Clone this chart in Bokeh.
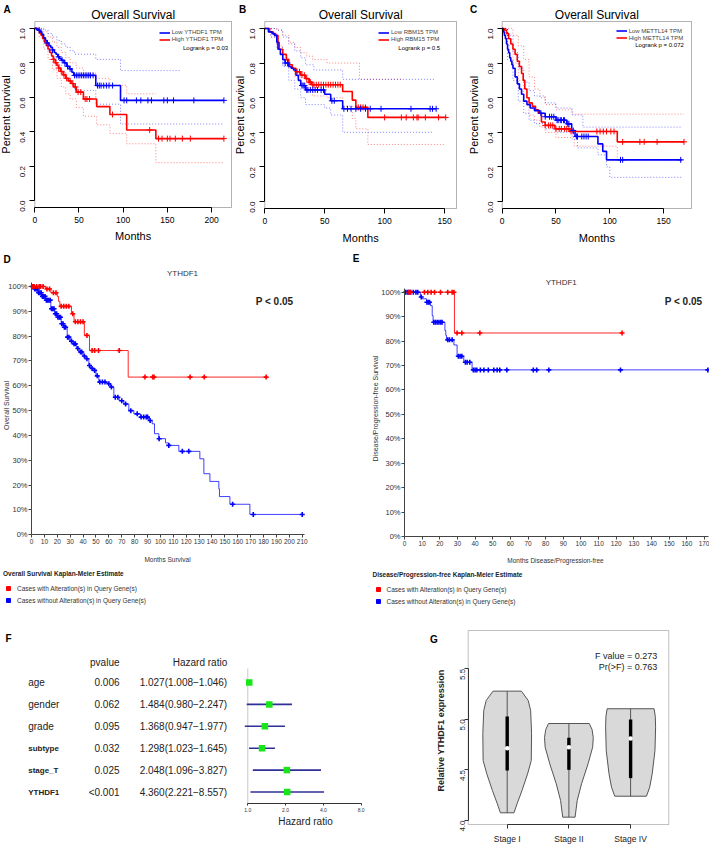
import math
import numpy as np
from bokeh.plotting import figure
from bokeh.models import (Range1d, FixedTicker, Label, Legend, LegendItem,
                          PrintfTickFormatter, BoxAnnotation, ColumnDataSource)
from bokeh.layouts import row, column
from bokeh.embed import file_html
from bokeh.resources import INLINE
from bokeh.core.properties import value

FONT = "Liberation Sans"
BLUE = "#0000ff"
RED = "#ff0000"

# ---------------- DATA ----------------
# Panel A  (YTHDF1, overall survival)
A_low_t = [0, 2, 4, 6, 8, 10, 12, 14, 16, 18, 20, 22, 24, 26, 28, 30, 33, 36, 39, 42, 44, 69, 97, 214]
A_low_s = [1.0, 0.995, 0.99, 0.98, 0.965, 0.945, 0.93, 0.915, 0.9, 0.89, 0.875, 0.86, 0.85, 0.835, 0.825,
           0.815, 0.8, 0.78, 0.765, 0.745, 0.727, 0.668, 0.582, 0.582]
A_high_t = [0, 3, 5, 7, 9, 11, 13, 15, 17, 19, 21, 23, 25, 27, 29, 32, 35, 38, 41, 44, 47, 55, 70, 85, 104, 137, 214]
A_high_s = [1.0, 0.99, 0.975, 0.96, 0.94, 0.92, 0.9, 0.88, 0.86, 0.84, 0.82, 0.8, 0.785, 0.77, 0.75, 0.73,
            0.71, 0.695, 0.68, 0.66, 0.63, 0.59, 0.546, 0.5, 0.41, 0.36, 0.36]
A_low_cens = [5, 14, 20, 27, 31, 34, 37, 40, 45, 47, 49, 51, 53, 55, 57, 59, 61, 63, 66, 71, 73, 75, 78, 81,
              84, 88, 101, 104, 115, 120, 128, 132, 146, 150, 157, 180, 214]
A_high_cens = [21, 24, 27, 30, 33, 36, 40, 43, 46, 49, 52, 57, 59, 62, 88, 130, 140, 144, 150, 153, 159, 167, 176, 214]
A_low_up_t = [0, 5, 10, 15, 20, 25, 30, 35, 40, 45, 69, 97, 166]
A_low_up_s = [1.0, 1.0, 0.99, 0.97, 0.95, 0.93, 0.91, 0.89, 0.87, 0.85, 0.82, 0.755, 0.755]
A_low_lo_t = [0, 5, 10, 15, 20, 25, 30, 35, 40, 45, 69, 97, 214]
A_low_lo_s = [1.0, 0.97, 0.92, 0.87, 0.83, 0.79, 0.75, 0.71, 0.68, 0.64, 0.56, 0.445, 0.445]
A_high_up_t = [0, 5, 10, 15, 20, 25, 30, 35, 40, 47, 55, 70, 85, 104, 137]
A_high_up_s = [1.0, 1.0, 0.98, 0.95, 0.92, 0.89, 0.86, 0.83, 0.8, 0.77, 0.74, 0.71, 0.67, 0.62, 0.62]
A_high_lo_t = [0, 5, 10, 15, 20, 25, 30, 35, 40, 47, 55, 70, 85, 104, 137, 214]
A_high_lo_s = [1.0, 0.95, 0.88, 0.82, 0.76, 0.71, 0.66, 0.62, 0.59, 0.54, 0.49, 0.44, 0.39, 0.33, 0.22, 0.22]

# Panel B  (RBM15)
B_low_t = [0, 3, 6, 8, 10, 11, 13, 15, 17, 20, 22, 24, 26, 28, 30, 34, 50, 55, 65, 143]
B_low_s = [1.0, 0.98, 0.97, 0.96, 0.92, 0.88, 0.85, 0.82, 0.8, 0.78, 0.77, 0.76, 0.73, 0.7, 0.67, 0.645,
           0.62, 0.582, 0.536, 0.536]
B_high_t = [0, 4, 7, 9, 11, 12, 15, 18, 20, 23, 26, 30, 34, 37, 39, 65, 73, 76, 86, 151]
B_high_s = [1.0, 0.98, 0.97, 0.96, 0.92, 0.88, 0.85, 0.82, 0.79, 0.77, 0.75, 0.73, 0.71, 0.69, 0.675,
            0.636, 0.586, 0.544, 0.486, 0.486]
B_low_cens = [17, 19, 31, 32, 33, 35, 36, 38, 40, 42, 44, 47, 49, 56, 58, 66, 69, 72, 76, 80, 84, 88, 97,
              122, 138, 140, 143]
B_high_cens = [27, 29, 31, 33, 35, 37, 38, 40, 41, 43, 45, 47, 49, 51, 53, 55, 57, 59, 61, 63, 78, 80, 82,
               84, 100, 114, 118, 124, 127, 128, 134, 145, 151]
B_low_up_t = [0, 5, 10, 15, 20, 25, 30, 34, 41, 65, 142]
B_low_up_s = [1.0, 1.0, 0.99, 0.95, 0.91, 0.87, 0.83, 0.79, 0.76, 0.706, 0.706]
B_low_lo_t = [0, 5, 10, 15, 20, 25, 30, 34, 50, 55, 65, 141]
B_low_lo_s = [1.0, 0.95, 0.89, 0.78, 0.7, 0.65, 0.6, 0.56, 0.54, 0.5, 0.4, 0.4]
B_high_up_t = [0, 5, 10, 15, 20, 25, 30, 35, 40, 52, 79, 115]
B_high_up_s = [1.0, 1.0, 0.99, 0.96, 0.92, 0.89, 0.86, 0.84, 0.82, 0.8, 0.706, 0.706]
B_high_lo_t = [0, 5, 10, 15, 20, 25, 30, 35, 40, 52, 65, 73, 76, 86, 150]
B_high_lo_s = [1.0, 0.95, 0.9, 0.83, 0.77, 0.72, 0.68, 0.64, 0.61, 0.6, 0.55, 0.48, 0.42, 0.33, 0.33]

# Panel C  (METTL14)
C_low_t = [0, 1, 2, 3, 4, 5, 6, 7, 8, 9, 10, 12, 14, 16, 18, 20, 23, 26, 30, 35, 40, 50, 60, 64.6, 67.7,
           89, 93.5, 97, 167]
C_low_s = [1.0, 0.98, 0.96, 0.94, 0.91, 0.88, 0.86, 0.83, 0.81, 0.79, 0.77, 0.72, 0.68, 0.65, 0.62, 0.58,
           0.56, 0.54, 0.525, 0.51, 0.49, 0.47, 0.449, 0.41, 0.376, 0.333, 0.29, 0.241, 0.241]
C_high_t = [0, 2, 4, 6, 8, 10, 12, 14, 16, 18, 19.5, 21, 23, 25, 28, 31, 33.5, 36.5, 40, 49, 63, 107, 169]
C_high_s = [1.0, 0.99, 0.97, 0.94, 0.91, 0.88, 0.85, 0.81, 0.78, 0.74, 0.7, 0.65, 0.6, 0.57, 0.55, 0.53,
            0.51, 0.46, 0.44, 0.42, 0.405, 0.345, 0.345]
C_low_cens = [36, 40, 44, 46, 48, 51, 52, 54, 55, 57, 58, 61, 62, 66, 69, 70, 74, 76, 78, 80, 110, 112, 166]
C_high_cens = [40, 43, 45, 47, 50, 53, 55, 58, 60, 62, 64, 66, 88, 91, 94, 97, 101, 104, 112, 128, 132, 144, 169]
C_low_up_t = [0, 5, 10, 15, 20, 25, 30, 40, 50, 65, 75, 167]
C_low_up_s = [1.0, 0.96, 0.86, 0.77, 0.69, 0.64, 0.61, 0.57, 0.54, 0.5, 0.43, 0.43]
C_low_lo_t = [0, 5, 10, 15, 20, 25, 30, 40, 50, 65, 70, 89, 97, 100, 167]
C_low_lo_s = [1.0, 0.82, 0.7, 0.58, 0.51, 0.47, 0.45, 0.42, 0.4, 0.36, 0.31, 0.27, 0.2, 0.14, 0.14]
C_high_up_t = [0, 5, 10, 15, 20, 25, 30, 35, 40, 50, 65, 169]
C_high_up_s = [1.0, 1.0, 0.96, 0.9, 0.82, 0.72, 0.65, 0.6, 0.56, 0.53, 0.505, 0.505]
C_high_lo_t = [0, 5, 10, 15, 20, 25, 30, 35, 40, 50, 67, 107, 169]
C_high_lo_s = [1.0, 0.9, 0.8, 0.7, 0.6, 0.5, 0.47, 0.43, 0.4, 0.37, 0.32, 0.24, 0.24]

# Panel D  (overall survival, % ; months)
D_alt_t = [0, 11, 15, 20, 21, 22, 31, 33, 41, 45, 75, 182]
D_alt_s = [100, 99, 97.5, 96, 94, 92, 89, 85.8, 80.3, 74.2, 63.5, 63.5]
D_alt_cens = [1, 2, 4, 6, 7, 9, 12, 14, 17, 19, 23, 25, 27, 29, 32, 34, 36, 38, 40, 43, 47, 49, 52, 68, 88,
              94, 95, 123, 134, 182]
D_unalt_t = [0, 2, 5, 8, 11, 15, 18, 20, 23, 25, 27.7, 30, 32, 35, 37, 40, 42, 44.5, 46, 48.4, 50, 52.2,
             58.7, 61.3, 63.9, 68, 71.6, 75.5, 79.4, 84.6, 91, 93.6, 95.4, 98.8, 104, 106.5, 114.3, 130.6,
             133.7, 138.4, 145.3, 145.8, 153.9, 169.4, 210]
D_unalt_s = [100, 99, 97.5, 96, 94.5, 91, 89, 87.6, 85, 83.6, 79.6, 78, 76.9, 75, 73.6, 72, 70.9, 68.2, 67,
             66.2, 64, 61.5, 60.8, 59.5, 55.4, 54, 52.7, 50, 48.7, 47.4, 46, 44.7, 40.7, 38.7, 37, 36, 33.6,
             30.6, 24.6, 21.5, 18.5, 15.4, 12.3, 8.2, 8.2]
D_unalt_cens = [0.5, 1.5, 2.5, 3.5, 4.5, 5.5, 6.5, 7.5, 8.5, 9.5, 10.5, 11.5, 12.5, 13.5, 14.5, 15.5, 16.5,
                17.5, 18.5, 19.5, 20.5, 21.5, 22.5, 23.5, 24.5, 25.5, 26.5, 28, 29, 31, 33, 34, 36, 38, 39,
                41, 43, 45, 47, 49, 51, 53, 55, 57, 60, 62, 65, 67, 70, 73, 77, 82, 85, 87, 89, 90, 92, 99,
                106.5, 117, 122, 156, 172, 210]

# Panel E  (disease/progression-free, % ; months)
E_alt_t = [0, 28.3, 123.3]
E_alt_s = [100, 83.3, 83.3]
E_alt_cens = [2.5, 3.4, 11.3, 13.2, 15.1, 17, 20.4, 24.5, 27, 28, 29.8, 32.5, 42.7, 123.3]
E_unalt_t = [0, 9, 10, 12.5, 14.7, 15.7, 16.2, 22.9, 23.4, 23.8, 28, 29.8, 33.6, 38.3, 172]
E_unalt_s = [100, 98, 97.3, 95.9, 94.5, 90.4, 87.7, 84.3, 82.3, 80.5, 78.4, 73.8, 71.3, 68.2, 68.2]
E_unalt_cens = [0.5, 1.5, 2.5, 3.5, 5, 6.5, 7.5, 9.5, 12.7, 13.5, 14.2, 16.6, 17.5, 18.5, 19.5, 20.5, 21.3,
                24.5, 25.5, 27, 30.5, 31.5, 32.5, 34.5, 35.5, 37, 39, 40, 41, 43, 45, 47.5, 50.6, 52.5, 54,
                58, 73, 74.9, 81.8, 122.4, 171.9]

# Panel F  (multivariate Cox)
F_vars = ["age", "gender", "grade", "subtype", "stage_T", "YTHDF1"]
F_pvalues = ["0.006", "0.062", "0.095", "0.032", "0.025", "<0.001"]
F_hr_text = ["1.027(1.008\u22121.046)", "1.484(0.980\u22122.247)", "1.368(0.947\u22121.977)",
             "1.298(1.023\u22121.645)", "2.048(1.096\u22123.827)", "4.360(2.221\u22128.557)"]
F_hr_plot = [1.027, 1.484, 1.368, 1.298, 2.048, 2.06]
F_lo_plot = [1.008, 0.980, 0.947, 1.023, 1.096, 1.05]
F_hi_plot = [1.046, 2.247, 1.977, 1.645, 3.827, 4.05]
F_ticks = [1, 2, 4, 8]
F_null = 1

# Panel G  (violin by stage)
G_stages = ["Stage I", "Stage II", "Stage IV"]
G1_y = [4.076, 4.165, 4.297, 4.46, 4.593, 4.858, 5.088, 5.187, 5.279]
G1_w = [0.11, 0.16, 0.24, 0.33, 0.39, 0.395, 0.38, 0.34, 0.23]
G2_y = [4.033, 4.198, 4.363, 4.56, 4.725, 4.82, 4.90, 4.959]
G2_w = [0.10, 0.135, 0.205, 0.31, 0.385, 0.395, 0.375, 0.33]
G4_y = [4.24, 4.33, 4.462, 4.692, 4.923, 5.03, 5.105]
G4_w = [0.257, 0.31, 0.35, 0.395, 0.405, 0.40, 0.38]
G_q1 = [4.495, 4.501, 4.419]
G_q3 = [5.029, 4.818, 4.999]
G_med = [4.715, 4.725, 4.811]


# ---------------- HELPERS ----------------
def step_at(t, s, x):
    t = np.asarray(t, dtype=float)
    s = np.asarray(s, dtype=float)
    idx = np.searchsorted(t, np.asarray(x, dtype=float), side="right") - 1
    return s[np.clip(idx, 0, len(s) - 1)]


class Panel:
    """A borderless figure: its whole area is data space; the plot region ('frame')
    is given in page pixels together with its data range."""

    def __init__(self, box, frame, xr, yr, x_log=False, **kw):
        self.x0, self.x1, self.y0, self.y1 = box
        self.fx0, self.fx1, self.fy0, self.fy1 = frame
        self.xr, self.yr, self.x_log = xr, yr, x_log
        full_x = (self.dx(self.x0), self.dx(self.x1))
        full_y = (self.dy(self.y1), self.dy(self.y0))
        self.p = figure(width=self.x1 - self.x0, height=self.y1 - self.y0,
                        x_range=Range1d(*full_x), y_range=Range1d(*full_y),
                        x_axis_type="log" if x_log else "linear",
                        min_border=0, min_border_left=0, min_border_right=0,
                        min_border_top=0, min_border_bottom=0,
                        output_backend="svg", toolbar_location=None, tools="",
                        background_fill_color="white", border_fill_color="white", **kw)
        self.p.xgrid.visible = False
        self.p.ygrid.visible = False
        self.p.outline_line_color = None

    def dx(self, px):
        f = (px - self.fx0) / (self.fx1 - self.fx0)
        a, b = self.xr
        if self.x_log:
            return 10 ** (math.log10(a) + f * (math.log10(b) - math.log10(a)))
        return a + f * (b - a)

    def dy(self, py):
        f = (self.fy1 - py) / (self.fy1 - self.fy0)
        a, b = self.yr
        return a + f * (b - a)

    def text(self, px, py, txt, size, bold=False, align="center", angle=0.0, color="black"):
        self.p.add_layout(Label(x=self.dx(px), y=self.dy(py), text=txt, text_font=FONT,
                                text_font_size=f"{size}px",
                                text_font_style="bold" if bold else "normal",
                                text_align=align, text_baseline="middle", angle=angle,
                                text_color=color))

    def box(self, color="black"):
        self.p.add_layout(BoxAnnotation(left=self.xr[0], right=self.xr[1], bottom=self.yr[0],
                                        top=self.yr[1], fill_color=None, fill_alpha=0,
                                        line_color=color, line_width=1))


def style_axis(ax, size, tick_out=4, standoff=3, color="black", label_color="black"):
    ax.major_label_text_font = FONT
    ax.major_label_text_font_size = f"{size}px"
    ax.major_label_text_color = label_color
    ax.major_tick_in = 0
    ax.major_tick_out = tick_out
    ax.minor_tick_line_color = None
    ax.major_label_standoff = standoff
    ax.axis_line_color = color
    ax.major_tick_line_color = color


def r_panel(P, low, high, low_up, low_lo, high_up, high_lo, low_c, high_c, xticks, labels, logrank,
            leg_left, leg_top, logrank_xy, xlab_y, ylab_x, ytick_standoff, letter, letter_x):
    p = P.p
    P.box()
    for (t, s), col in [(high_up, RED), (high_lo, RED), (low_up, BLUE), (low_lo, BLUE)]:
        p.step(t, s, mode="after", line_color=col, line_alpha=0.5, line_width=1, line_dash="1 2")
    rh = p.step(high[0], high[1], mode="after", line_color=RED, line_width=1.6)
    rl = p.step(low[0], low[1], mode="after", line_color=BLUE, line_width=1.6)
    p.scatter(high_c, step_at(high[0], high[1], high_c), marker="cross", size=6, line_color=RED, line_width=1)
    p.scatter(low_c, step_at(low[0], low[1], low_c), marker="cross", size=6, line_color=BLUE, line_width=1)
    xa, ya = p.xaxis[0], p.yaxis[0]
    xa.fixed_location = P.yr[0]
    ya.fixed_location = P.xr[0]
    xa.bounds = (xticks[0], xticks[-1])
    ya.bounds = (0, 1)
    xa.ticker = FixedTicker(ticks=xticks)
    ya.ticker = FixedTicker(ticks=[0, 0.2, 0.4, 0.6, 0.8, 1.0])
    ya.formatter = PrintfTickFormatter(format="%.1f")
    ya.major_label_orientation = math.pi / 2
    style_axis(xa, 8.5, tick_out=5, standoff=4)
    style_axis(ya, 8, tick_out=5, standoff=ytick_standoff)
    leg = Legend(items=[LegendItem(label=labels[0], renderers=[rl]),
                        LegendItem(label=labels[1], renderers=[rh])],
                 location=(leg_left - P.x0, P.y1 - (leg_top + 14)),
                 label_text_font=FONT, label_text_font_size="6px", label_height=7,
                 glyph_height=7, glyph_width=11, label_standoff=2, spacing=0, padding=0,
                 margin=0, border_line_color=None, background_fill_alpha=0)
    p.add_layout(leg)
    cx = (P.fx0 + P.fx1) / 2
    cy = (P.fy0 + P.fy1) / 2
    P.text(cx, 14.5, "Overall Survival", 12)
    P.text(cx, xlab_y, "Months", 11)
    P.text(ylab_x, cy, "Percent survival", 11, angle=math.pi / 2)
    P.text(logrank_xy[0], logrank_xy[1], logrank, 6, align="right")
    P.text(letter_x, 9, letter, 10, bold=True)


def cbio_panel(P, alt, unalt, alt_c, unalt_c, xticks, xbound, ylab, ylab_xy, xlab, xlab_xy, title_xy,
               p_xy, leg_title, leg_left, leg_bottom, letter, letter_xy):
    p = P.p
    p.step(unalt[0], unalt[1], mode="after", line_color=BLUE, line_width=1, line_alpha=0.75)
    p.step(alt[0], alt[1], mode="after", line_color=RED, line_width=1, line_alpha=0.85)
    p.scatter(unalt_c, step_at(unalt[0], unalt[1], unalt_c), marker="cross", size=5, line_color=BLUE,
              line_width=1.6)
    p.scatter(alt_c, step_at(alt[0], alt[1], alt_c), marker="cross", size=5, line_color=RED, line_width=1.6)
    xa, ya = p.xaxis[0], p.yaxis[0]
    xa.fixed_location = 0
    ya.fixed_location = 0
    xa.bounds = (0, xbound)
    ya.bounds = (0, P.yr[1] - 0.5)
    xa.ticker = FixedTicker(ticks=xticks)
    ya.ticker = FixedTicker(ticks=list(range(0, 101, 10)))
    ya.formatter = PrintfTickFormatter(format="%d%%")
    style_axis(xa, 6.5, tick_out=3, standoff=1, color="#444444", label_color="#333333")
    style_axis(ya, 7.5, tick_out=3, standoff=1, color="#444444", label_color="#333333")
    nan = [float("nan")]
    dr = p.scatter(x=nan, y=nan, marker="square", fill_color=RED, line_color=RED)
    db = p.scatter(x=nan, y=nan, marker="square", fill_color=BLUE, line_color=BLUE)
    leg = Legend(items=[LegendItem(label="Cases with Alteration(s) in Query Gene(s)", renderers=[dr]),
                        LegendItem(label="Cases without Alteration(s) in Query Gene(s)", renderers=[db])],
                 title=leg_title, location=(leg_left - P.x0, P.y1 - leg_bottom),
                 title_text_font=FONT, title_text_font_style="bold", title_text_font_size="6.5px",
                 title_text_color="#222222",
                 title_standoff=5, label_text_font=FONT, label_text_font_size="6.5px",
                 label_text_color="#333333", label_height=12, glyph_height=10, glyph_width=10,
                 label_standoff=4, spacing=0, padding=0, margin=0, border_line_color=None,
                 background_fill_alpha=0)
    p.add_layout(leg)
    P.text(ylab_xy[0], ylab_xy[1], ylab, 7, angle=math.pi / 2, color="#333333")
    P.text(xlab_xy[0], xlab_xy[1], xlab, 6.5, color="#333333")
    P.text(title_xy[0], title_xy[1], "YTHDF1", 8, color="#333333")
    P.text(p_xy[0], p_xy[1], "P < 0.05", 10, bold=True, color="#222222")
    P.text(letter_xy[0], letter_xy[1], letter, 10, bold=True)


# ---------------- ROW 1 : A, B, C ----------------
A = Panel((0, 234, 0, 250), (34.3, 231, 21, 207), (0, 222.6), (-0.04, 1.04))
r_panel(A, (A_low_t, A_low_s), (A_high_t, A_high_s), (A_low_up_t, A_low_up_s), (A_low_lo_t, A_low_lo_s),
        (A_high_up_t, A_high_up_s), (A_high_lo_t, A_high_lo_s), A_low_cens, A_high_cens,
        [0, 50, 100, 150, 200], ["Low YTHDF1 TPM", "High YTHDF1 TPM"], "Logrank p = 0.03",
        158.7, 28.8, (227.7, 47), 235, 5, 7, "A", 6.5)

B = Panel((234, 466, 0, 250), (264.3, 456, 21, 208), (0, 160), (-0.04, 1.04))
r_panel(B, (B_low_t, B_low_s), (B_high_t, B_high_s), (B_low_up_t, B_low_up_s), (B_low_lo_t, B_low_lo_s),
        (B_high_up_t, B_high_up_s), (B_high_lo_t, B_high_lo_s), B_low_cens, B_high_cens,
        [0, 50, 100, 150], ["Low RBM15 TPM", "High RBM15 TPM"], "Logrank p = 0.5",
        378, 28.5, (439.7, 47), 237, 239.5, 7, "B", 242)

C = Panel((466, 709, 0, 250), (501.7, 691, 21, 208), (0, 176), (-0.04, 1.04))
r_panel(C, (C_low_t, C_low_s), (C_high_t, C_high_s), (C_low_up_t, C_low_up_s), (C_low_lo_t, C_low_lo_s),
        (C_high_up_t, C_high_up_s), (C_high_lo_t, C_high_lo_s), C_low_cens, C_high_cens,
        [0, 50, 100, 150], ["Low METTL14 TPM", "High METTL14 TPM"], "Logrank p = 0.072",
        615.7, 27.2, (683.3, 44.3), 237, 473, 7, "C", 473)

# ---------------- ROW 2 : D, E ----------------
D = Panel((0, 350, 250, 612), (31, 305.6, 281, 534.3), (0, 213), (0, 102))
cbio_panel(D, (D_alt_t, D_alt_s), (D_unalt_t, D_unalt_s), D_alt_cens, D_unalt_cens,
           list(range(0, 211, 10)), 211.5, "Overall Survival", (5.8, 405), "Months Survival", (167, 559),
           (182, 273), (274, 301), "Overall Survival Kaplan-Meier Estimate", 3, 606, "D", (6.5, 258.5))

E = Panel((350, 709, 250, 612), (404, 708.4, 286.8, 536), (0, 172.5), (0, 102))
cbio_panel(E, (E_alt_t, E_alt_s), (E_unalt_t, E_unalt_s), E_alt_cens, E_unalt_cens,
           list(range(0, 171, 10)), 172.5, "Disease/Progression-free Survival", (375, 408),
           "Months Disease/Progression-free", (555, 560), (560.7, 281.7), (683, 300.7),
           "Disease/Progression-free Kaplan-Meier Estimate", 372.5, 607, "E", (355.5, 258))

# ---------------- ROW 3 : F (table + forest), G ----------------
rows = list(range(len(F_vars)))
T = Panel((0, 243, 612, 844), (0, 243, 612, 844), (0, 243), (7.397, -3.196),
          x_axis_location=None, y_axis_location=None)
tp = T.p
n_plain = 3
src_a = ColumnDataSource(dict(row=rows[:n_plain], var=F_vars[:n_plain]))
src_b = ColumnDataSource(dict(row=rows[n_plain:], var=F_vars[n_plain:]))
src_all = ColumnDataSource(dict(row=rows, p=F_pvalues, hr=F_hr_text))
tp.text(x=27.7, y="row", text="var", source=src_a, text_font=value(FONT), text_font_size="10px",
        text_baseline="middle", text_align="left", text_color="#222222")
tp.text(x=27.7, y="row", text="var", source=src_b, text_font=value(FONT), text_font_size="8px",
        text_font_style="bold", text_baseline="middle", text_align="left", text_color="#222222")
tp.text(x=119, y="row", text="p", source=src_all, text_font=value(FONT), text_font_size="10px",
        text_baseline="middle", text_align="right", text_color="#222222")
tp.text(x=226.7, y="row", text="hr", source=src_all, text_font=value(FONT), text_font_size="10px",
        text_baseline="middle", text_align="right", text_color="#222222")
T.text(119, 661.7, "pvalue", 10, align="right", color="#222222")
T.text(226.7, 661.7, "Hazard ratio", 10, align="right", color="#222222")
T.text(8, 638, "F", 10, bold=True)

Ff = Panel((243, 380, 612, 844), (243, 365, 668, 803), (0.924, 8.66), (5.525, -0.639), x_log=True,
           y_axis_location=None)
fp = Ff.p
fp.segment(x0=[F_null], y0=[Ff.yr[0]], x1=[F_null], y1=[Ff.yr[1]], line_color="#c8c8c8", line_width=1)
fp.segment(x0=F_lo_plot, y0=rows, x1=F_hi_plot, y1=rows, line_color="#2f2f96", line_width=1.6)
fp.scatter(x=F_hr_plot, y=rows, marker="square", size=6.5, fill_color="#19e619", line_color=None)
fxa = fp.xaxis[0]
fxa.fixed_location = Ff.yr[0]
fxa.ticker = FixedTicker(ticks=F_ticks)
fxa.formatter = PrintfTickFormatter(format="%.1f")
fxa.bounds = (F_ticks[0], F_ticks[-1])
style_axis(fxa, 5, tick_out=2, standoff=2, color="#333333", label_color="#333333")
Ff.text(305, 820.7, "Hazard ratio", 10, color="#222222")

G = Panel((380, 709, 612, 844), (467.7, 668.3, 630, 824), (0.368, 3.619), (3.9604, 5.8787))
gp = G.p
G.box("#333333")
pos = [i + 1 for i in range(len(G_stages))]
vx, vy = [], []
for c, ys, ws in zip(pos, [G1_y, G2_y, G4_y], [G1_w, G2_w, G4_w]):
    vx.append([c + w for w in ws] + [c - w for w in ws[::-1]])
    vy.append(list(ys) + list(ys[::-1]))
gp.patches(xs=vx, ys=vy, fill_color="#d9d9d9", line_color="#555555", line_width=1)
g_min = [ys[0] for ys in (G1_y, G2_y, G4_y)]
g_max = [ys[-1] for ys in (G1_y, G2_y, G4_y)]
gp.segment(x0=pos, y0=g_min, x1=pos, y1=g_max, line_color="#555555", line_width=1)
gp.vbar(x=pos, width=0.055, bottom=G_q1, top=G_q3, fill_color="black", line_color=None)
gp.scatter(x=pos, y=G_med, size=4.5, fill_color="white", line_color=None)
gxa, gya = gp.xaxis[0], gp.yaxis[0]
gxa.fixed_location = G.yr[0]
gya.fixed_location = G.xr[0]
gxa.bounds = (pos[0], pos[-1])
gxa.ticker = FixedTicker(ticks=pos)
gxa.major_label_overrides = {p_: s for p_, s in zip(pos, G_stages)}
gya.ticker = FixedTicker(ticks=[4.0, 4.5, 5.0, 5.5])
gya.bounds = (4.0, 5.5)
gya.formatter = PrintfTickFormatter(format="%.1f")
gya.major_label_orientation = math.pi / 2
style_axis(gxa, 8.5, tick_out=4, standoff=5, color="#333333", label_color="#222222")
style_axis(gya, 8, tick_out=4, standoff=2, color="#333333", label_color="#222222")
G.text(440, 730, "Relative YTHDF1 expression", 9, bold=True, angle=math.pi / 2, color="#222222")
G.text(656.7, 655.7, "F value = 0.273", 9, align="right", color="#222222")
G.text(656.7, 666.7, "Pr(>F) = 0.763", 9, align="right", color="#222222")
G.text(433.5, 639, "G", 10, bold=True)

layout = column(row(A.p, B.p, C.p), row(D.p, E.p), row(T.p, Ff.p, G.p))
open("out.html", "w").write(file_html(layout, INLINE, title="Survival figure"))
